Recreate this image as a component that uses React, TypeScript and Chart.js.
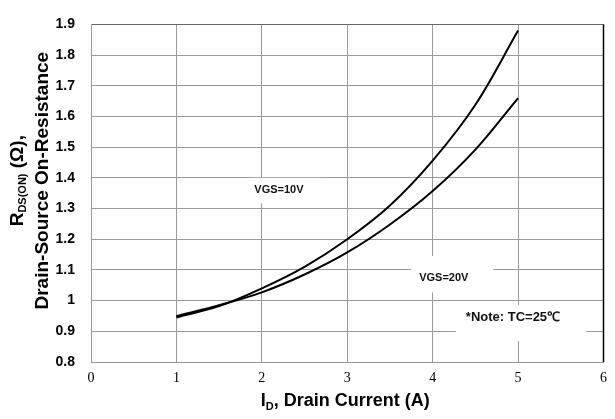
import React, { useEffect, useRef } from 'react';
import { Chart, registerables } from 'chart.js';

Chart.register(...registerables);

// ---- data ----
const currents = [1, 1.5, 2, 2.5, 3, 3.5, 4, 4.5, 5];
const rdsVgs10 = [0.945, 0.982, 1.04, 1.11, 1.2, 1.31, 1.456, 1.638, 1.88];
const rdsVgs20 = [0.95, 0.985, 1.027, 1.085, 1.157, 1.248, 1.357, 1.492, 1.66];
const xTicks = [0, 1, 2, 3, 4, 5, 6];
const yTicks = [0.8, 0.9, 1.0, 1.1, 1.2, 1.3, 1.4, 1.5, 1.6, 1.7, 1.8, 1.9];
const seriesLabels = ['VGS=10V', 'VGS=20V'];
const noteText = '*Note: TC=25\u2103';

// annotation boxes in data units: [x0, x1, yTop, yBottom], text centre (x, y)
const annotations = [
  { text: seriesLabels[0], box: [1.867, 2.688, 1.4, 1.317], x: 2.2, y: 1.362, size: 11 },
  { text: seriesLabels[1], box: [3.75, 4.71, 1.145, 1.027], x: 4.13, y: 1.074, size: 11 },
  { text: noteText, box: [4.27, 5.8, 0.986, 0.869], x: 4.94, y: 0.945, size: 13 },
];

const SANS = '"Liberation Sans", Arial, sans-serif';

const overlayPlugin = {
  id: 'overlay',
  beforeDatasetsDraw(chart: any) {
    const { ctx, scales } = chart;
    const xs = scales.x;
    const ys = scales.y;
    ctx.save();
    annotations.forEach((a) => {
      const x0 = xs.getPixelForValue(a.box[0]);
      const x1 = xs.getPixelForValue(a.box[1]);
      const y0 = ys.getPixelForValue(a.box[2]);
      const y1 = ys.getPixelForValue(a.box[3]);
      ctx.fillStyle = '#ffffff';
      ctx.fillRect(x0, y0, x1 - x0, y1 - y0);
      ctx.fillStyle = '#111111';
      ctx.font = `bold ${a.size}px ${SANS}`;
      ctx.textAlign = 'center';
      ctx.textBaseline = 'middle';
      ctx.fillText(a.text, xs.getPixelForValue(a.x), ys.getPixelForValue(a.y));
    });
    // right border
    ctx.strokeStyle = '#000';
    ctx.lineWidth = 1.5;
    const ca = chart.chartArea;
    ctx.beginPath();
    ctx.moveTo(ca.right, ca.top);
    ctx.lineTo(ca.right, ca.bottom);
    ctx.stroke();
    ctx.restore();
  },
  afterDraw(chart: any) {
    const { ctx, chartArea } = chart;
    ctx.save();
    ctx.fillStyle = '#000';
    ctx.textBaseline = 'alphabetic';
    ctx.textAlign = 'left';

    // X title: I_D, Drain Current (A)
    const big = `bold 18px ${SANS}`;
    const small = `bold 11px ${SANS}`;
    ctx.font = big;
    const wI = ctx.measureText('I').width;
    const wRest = ctx.measureText(', Drain Current (A)').width;
    ctx.font = small;
    const wD = ctx.measureText('D').width;
    const total = wI + wD + wRest;
    const cx = (chartArea.left + chartArea.right) / 2 - 2;
    let x = cx - total / 2;
    const by = 406;
    ctx.font = big;
    ctx.fillText('I', x, by);
    x += wI;
    ctx.font = small;
    ctx.fillText('D', x, by + 4);
    x += wD;
    ctx.font = big;
    ctx.fillText(', Drain Current (A)', x, by);

    // Y title (rotated)
    const yBig = `bold 19px ${SANS}`;
    const ySmall = `bold 11px ${SANS}`;
    const cy = (chartArea.top + chartArea.bottom) / 2 - 12.5;

    // line 1: R_DS(ON) (Ω),
    ctx.save();
    ctx.translate(23, cy);
    ctx.rotate(-Math.PI / 2);
    ctx.font = yBig;
    const wR = ctx.measureText('R').width;
    const wTail = ctx.measureText(' (\u03A9),').width;
    ctx.font = ySmall;
    const wSub = ctx.measureText('DS(ON)').width;
    let lx = -(wR + wSub + wTail) / 2;
    ctx.font = yBig;
    ctx.fillText('R', lx, 0);
    lx += wR;
    ctx.font = ySmall;
    ctx.fillText('DS(ON)', lx, 3);
    lx += wSub;
    ctx.font = yBig;
    ctx.fillText(' (\u03A9),', lx, 0);
    ctx.restore();

    // line 2
    ctx.save();
    ctx.translate(48, cy);
    ctx.rotate(-Math.PI / 2);
    ctx.font = yBig;
    ctx.textAlign = 'center';
    ctx.fillText('Drain-Source On-Resistance', 0, 0);
    ctx.restore();

    ctx.restore();
  },
};

export default function App() {
  const canvasRef = useRef<HTMLCanvasElement | null>(null);

  useEffect(() => {
    document.body.style.margin = '0';
    const canvas = canvasRef.current;
    if (!canvas) return;
    const chart = new Chart(canvas, {
      type: 'line',
      data: {
        datasets: [
          {
            label: seriesLabels[0],
            data: currents.map((c, i) => ({ x: c, y: rdsVgs10[i] })),
            borderColor: '#000',
            borderWidth: 2,
            pointRadius: 0,
            tension: 0.35,
            fill: false,
          },
          {
            label: seriesLabels[1],
            data: currents.map((c, i) => ({ x: c, y: rdsVgs20[i] })),
            borderColor: '#000',
            borderWidth: 2,
            pointRadius: 0,
            tension: 0.35,
            fill: false,
          },
        ],
      },
      options: {
        responsive: false,
        animation: false,
        devicePixelRatio: 1,
        layout: { padding: { top: 15, right: 5, left: 0, bottom: 0 } },
        plugins: {
          legend: { display: false },
          tooltip: { enabled: false },
        },
        scales: {
          x: {
            type: 'linear',
            min: 0,
            max: 6,
            afterBuildTicks: (s: any) => {
              s.ticks = xTicks.map((v) => ({ value: v }));
            },
            afterFit: (s: any) => {
              s.height = 57;
            },
            grid: { color: '#9a9a9a', lineWidth: 1, drawTicks: false },
            border: { color: '#9a9a9a', width: 1 },
            ticks: {
              padding: 8,
              color: '#000',
              font: { family: '"Liberation Serif", "Times New Roman", serif', size: 14 },
              callback: (v: any) => String(v),
            },
          },
          y: {
            type: 'linear',
            min: 0.8,
            max: 1.9,
            afterBuildTicks: (s: any) => {
              s.ticks = yTicks.map((v) => ({ value: v }));
            },
            afterFit: (s: any) => {
              s.width = 91;
            },
            grid: {
              color: (c: any) => (c.tick && Math.abs(c.tick.value - 1.9) < 1e-6 ? '#666' : '#9a9a9a'),
              lineWidth: 1,
              drawTicks: false,
            },
            border: { color: '#9a9a9a', width: 1 },
            ticks: {
              padding: 16,
              color: '#000',
              font: { family: SANS, size: 14, weight: 'bold' },
              callback: (v: any) => String(Math.round(Number(v) * 10) / 10),
            },
          },
        },
      },
      plugins: [overlayPlugin],
    } as any);
    return () => chart.destroy();
  }, []);

  return (
    <div style={{ width: 615, height: 419, background: '#fff' }}>
      <canvas ref={canvasRef} width={615} height={419} />
    </div>
  );
}
